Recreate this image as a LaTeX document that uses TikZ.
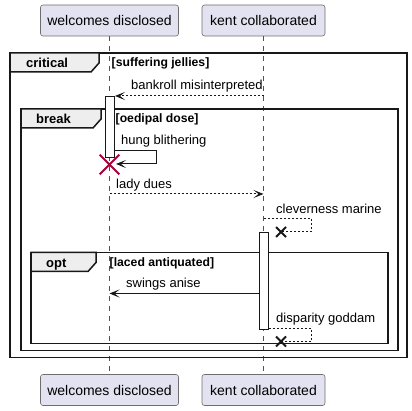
\documentclass[tikz,border=0pt]{standalone}
\usepackage{fontspec}
\setmainfont{Liberation Sans}
\usetikzlibrary{arrows.meta,calc}
\definecolor{partfill}{HTML}{E2E2F0}
\definecolor{partline}{HTML}{6E6E6E}
\definecolor{tabfill}{HTML}{EEEEEE}
\definecolor{ink}{HTML}{181818}
\definecolor{killred}{HTML}{A80036}
\begin{document}
\begin{tikzpicture}[x=1pt,y=-1pt,
  participant/.style={draw=partline, fill=partfill, line width=0.6pt, rounded corners=2.5pt,
    inner sep=0pt, minimum height=31pt, font=\fontsize{14}{16}\selectfont},
  lifeline/.style={draw=ink!75, line width=0.5pt, dash pattern=on 5pt off 5pt},
  framebox/.style={draw=ink, line width=1.5pt},
  tabshape/.style={draw=ink, line width=1.5pt, fill=tabfill, line join=miter},
  tablabel/.style={anchor=base west, inner sep=0pt, font=\bfseries\fontsize{13}{15}\selectfont},
  guard/.style={anchor=base west, inner sep=0pt, font=\bfseries\fontsize{12.2}{14}\selectfont},
  msglabel/.style={anchor=base west, inner sep=0pt, font=\fontsize{13}{15}\selectfont},
  activation/.style={draw=ink, fill=white, line width=1pt},
  msgline/.style={draw=ink, line width=1pt},
  msg/.style={msgline, -{Stealth[length=10pt,width=8pt,inset=5pt]}},
  dashedmsg/.style={msg, dash pattern=on 2pt off 2pt},
  dashedline/.style={msgline, dash pattern=on 2pt off 2pt},
  lostx/.style={draw=ink, line width=2pt},
  killx/.style={draw=killred, line width=2pt},
]
\useasboundingbox (0,0) rectangle (412,411);

% participants, top and bottom
\node[participant, minimum width=138pt] (wTop) at (109.5,20.5) {welcomes disclosed};
\node[participant, minimum width=123pt] (kTop) at (263.5,20.5) {kent collaborated};
\node[participant, minimum width=138pt] (wBot) at (109.5,390) {welcomes disclosed};
\node[participant, minimum width=123pt] (kBot) at (263.5,390) {kent collaborated};

% lifelines
\draw[lifeline] (wTop.south) -- (wBot.north);
\draw[lifeline] (kTop.south) -- (kBot.north);

% critical frame
\draw[framebox] (10,53) rectangle (407,357.5);
\draw[tabshape] (10,53) -- (99,53) -- (99,63) -- (91,72) -- (10,72) -- cycle;
\node[tablabel] (critLbl) at (26,68) {critical};
\node[guard] (critGuard) at (111.5,67) {[suffering jellies]};

% break frame
\draw[framebox] (21,109) rectangle (398,350.5);
\draw[tabshape] (21,109) -- (101,109) -- (101,119) -- (93,128) -- (21,128) -- cycle;
\node[tablabel] (brkLbl) at (36,124) {break};
\node[guard] (brkGuard) at (115.5,123) {[oedipal dose]};

% opt frame
\draw[framebox] (31,252.5) rectangle (388,343.5);
\draw[tabshape] (31,252.5) -- (96,252.5) -- (96,262.5) -- (88,271.5) -- (31,271.5) -- cycle;
\node[tablabel] (optLbl) at (46,267.5) {opt};
\node[guard] (optGuard) at (109.5,266.5) {[laced antiquated]};

% activation bars
\node[activation, minimum width=9.5pt, minimum height=61pt, inner sep=0pt, anchor=north] (wAct) at (109.75,96) {};
\node[activation, minimum width=9pt, minimum height=96.5pt, inner sep=0pt, anchor=north] (kAct) at (264,232.5) {};

% bankroll misinterpreted
\coordinate (m1s) at (263.5,96);
\coordinate (m1e) at (wAct.north east);
\draw[dashedmsg] (m1s) -- (m1e);
\node[msglabel] (m1l) at (131,89.5) {bankroll misinterpreted};

% hung blithering (self call ending in destruction)
\coordinate (m2s) at (114.5,151);
\coordinate (m2a) at (156,151);
\coordinate (m2b) at (156,164);
\coordinate (m2e) at (116,164);
\draw[msg] (m2s) -- (m2a) -- (m2b) -- (m2e);
\node[msglabel] (m2l) at (121,145) {hung blithering};
\coordinate (kill) at (109.5,164.5);
\draw[killx] ($(kill)+(-9.8,-9.8)$) -- ($(kill)+(9.8,9.8)$);
\draw[killx] ($(kill)+(9.8,-9.8)$) -- ($(kill)+(-9.8,9.8)$);

% lady dues
\coordinate (m3s) at (109.5,194);
\coordinate (m3e) at (263.5,194);
\draw[dashedmsg] (m3s) -- (m3e);
\node[msglabel] (m3l) at (116,188.5) {lady dues};

% cleverness marine (lost self message)
\coordinate (m4s) at (263.5,219);
\coordinate (m4a) at (311,219);
\coordinate (m4b) at (311,232);
\coordinate (m4x) at (281,232);
\draw[dashedline] (m4s) -- (m4a) -- (m4b) -- (m4x);
\draw[lostx] ($(m4x)+(-5,-5)$) -- ($(m4x)+(5,5)$);
\draw[lostx] ($(m4x)+(5,-5)$) -- ($(m4x)+(-5,5)$);
\node[msglabel] (m4l) at (276,213.5) {cleverness marine};

% swings anise
\coordinate (m5s) at (259.5,293.5);
\coordinate (m5e) at (109.5,293.5);
\draw[msg] (m5s) -- (m5e);
\node[msglabel] (m5l) at (126,288) {swings anise};

% disparity goddam (lost self message)
\coordinate (m6s) at (268.5,328.5);
\coordinate (m6a) at (311,328.5);
\coordinate (m6b) at (311,341.5);
\coordinate (m6x) at (281,341.5);
\draw[dashedline] (m6s) -- (m6a) -- (m6b) -- (m6x);
\draw[lostx] ($(m6x)+(-5,-5)$) -- ($(m6x)+(5,5)$);
\draw[lostx] ($(m6x)+(5,-5)$) -- ($(m6x)+(-5,5)$);
\node[msglabel] (m6l) at (276,323) {disparity goddam};
\end{tikzpicture}
\end{document}
